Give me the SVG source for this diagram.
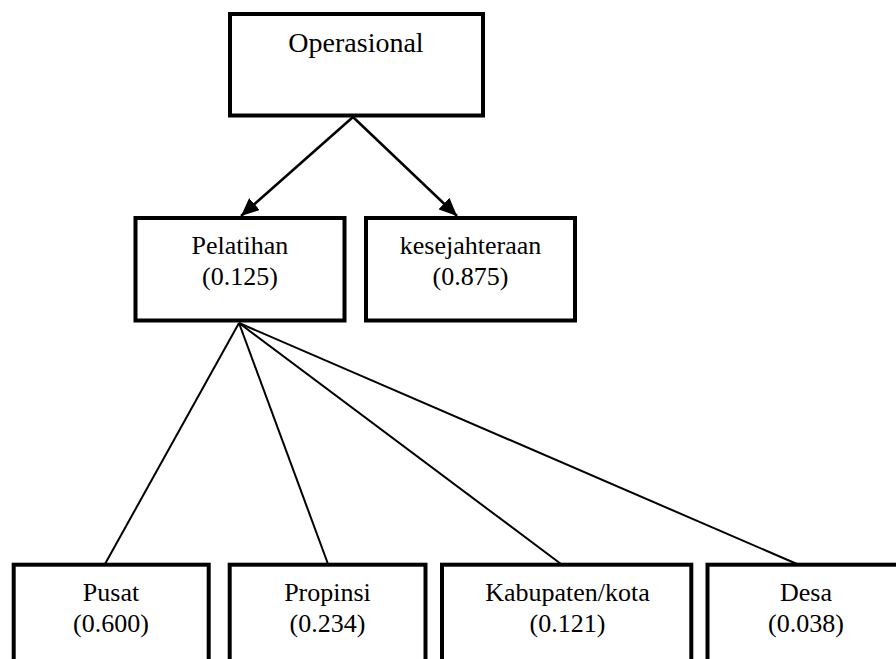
<svg xmlns="http://www.w3.org/2000/svg" width="896" height="659" viewBox="0 0 896 659">
<style>
.box{fill:#fff;stroke:#000;stroke-width:4}
.c{stroke:#000;stroke-width:2;fill:none}
.a{stroke:#000;stroke-width:2.5;fill:none}
</style>
<defs>
<marker id="ah2" markerWidth="18" markerHeight="16" refX="18" refY="8" orient="auto" markerUnits="userSpaceOnUse" viewBox="0 0 18 16">
<path d="M0,0 L18,8 L0,16 z" fill="#000"/>
</marker>
</defs>
<rect width="896" height="659" fill="#fff"/>
<g id="connectors">
<line class="a" x1="353" y1="117" x2="241" y2="216" marker-end="url(#ah2)"/>
<line class="a" x1="353" y1="117" x2="457" y2="216" marker-end="url(#ah2)"/>
<line class="c" x1="239" y1="323" x2="105" y2="564"/>
<line class="c" x1="239" y1="323" x2="328" y2="564"/>
<line class="c" x1="239" y1="323" x2="561" y2="564"/>
<line class="c" x1="239" y1="323" x2="797" y2="564"/>
</g>
<g font-family="Liberation Serif" font-size="26" text-anchor="middle" fill="#000">
<g id="operasional">
<rect class="box" x="230" y="14" width="253" height="101.5"/>
<text x="356" y="52" font-size="28">Operasional</text>
</g>
<g id="pelatihan">
<rect class="box" x="135.5" y="218" width="209" height="102.5"/>
<text x="240" y="254">Pelatihan</text>
<text x="240" y="285">(0.125)</text>
</g>
<g id="kesejahteraan">
<rect class="box" x="366" y="218" width="209" height="102.5"/>
<text x="470.5" y="254">kesejahteraan</text>
<text x="470.5" y="285">(0.875)</text>
</g>
<g id="pusat">
<rect class="box" x="13.7" y="564.7" width="195" height="110"/>
<text x="111" y="601">Pusat</text>
<text x="111" y="632">(0.600)</text>
</g>
<g id="propinsi">
<rect class="box" x="229.7" y="564.7" width="195.8" height="110"/>
<text x="327.5" y="601">Propinsi</text>
<text x="327.5" y="632">(0.234)</text>
</g>
<g id="kabupaten">
<rect class="box" x="442" y="564.7" width="249.3" height="110"/>
<text x="567.5" y="601">Kabupaten/kota</text>
<text x="567.5" y="632">(0.121)</text>
</g>
<g id="desa">
<rect class="box" x="707.5" y="564.7" width="197" height="110"/>
<text x="806" y="601">Desa</text>
<text x="806" y="632">(0.038)</text>
</g>
</g>
</svg>
